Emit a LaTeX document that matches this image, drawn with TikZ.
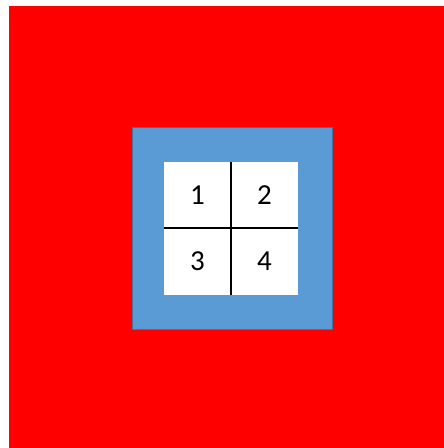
\documentclass[tikz,border=0pt]{standalone}
\usepackage{fontspec}
\setmainfont{Carlito}
\definecolor{officeblue}{HTML}{5B9BD5}
\definecolor{blueedge}{HTML}{41719C}
\definecolor{pured}{HTML}{FF0000}
\begin{document}
\begin{tikzpicture}[x=1pt,y=-1pt,
  cell/.style={draw=none,fill=white,minimum width=67pt,minimum height=66.5pt,inner sep=0pt,font=\fontsize{29}{29}\selectfont},
  divider/.style={draw=black,line width=2pt}]
\useasboundingbox (0,0) rectangle (444,448);
\fill[white] (0,0) rectangle (444,448);
\fill[pured] (9,6) rectangle (444,448);
\node[draw=blueedge,fill=officeblue,line width=0.6pt,minimum width=200pt,minimum height=202pt,inner sep=0pt] (frame) at (232,228) {};
\node[cell] (c1) at (197.5,195) {1};
\node[cell] (c2) at (264.5,195) {2};
\node[cell] (c3) at (197.5,261.5) {3};
\node[cell] (c4) at (264.5,261.5) {4};
\draw[divider] (c1.north east) -- (c3.south east);
\draw[divider] (c1.south west) -- (c2.south east);
\end{tikzpicture}
\end{document}
